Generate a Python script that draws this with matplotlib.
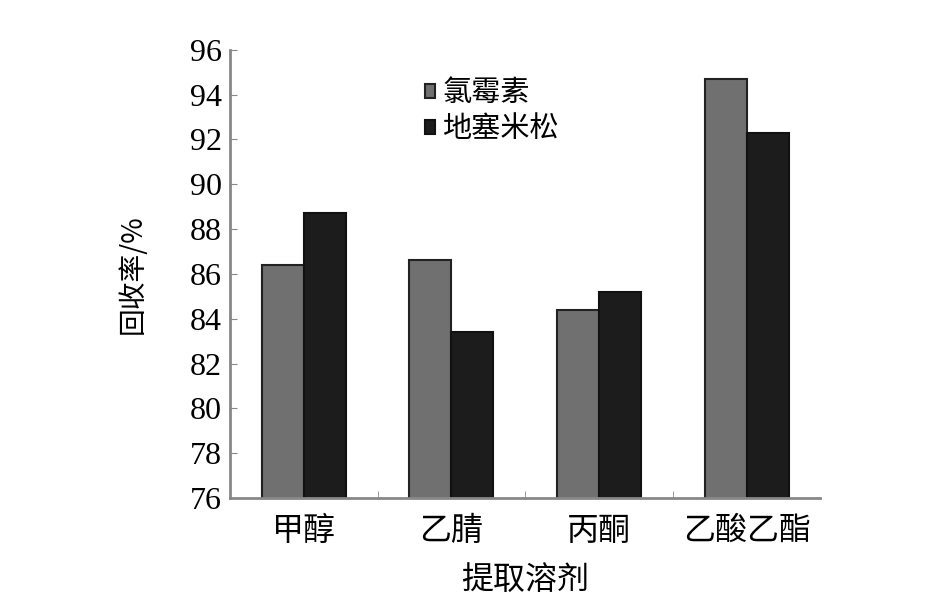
import numpy as np
import matplotlib.pyplot as plt

plt.rcParams['font.family'] = ['Noto Sans CJK SC', 'DejaVu Sans']

solvents = ['甲醇', '乙腈', '丙酮', '乙酸乙酯']
chloramphenicol = [86.4, 86.6, 84.4, 94.7]
dexamethasone = [88.7, 83.4, 85.2, 92.3]
yticks = np.arange(76, 97, 2)

fig = plt.figure(figsize=(9.42, 6.06), dpi=100)
ax = fig.add_axes([0.244, 0.178, 0.627, 0.74])

x = np.arange(len(solvents))
w = 0.285
ax.bar(x - w / 2, chloramphenicol, w, color='#707070', edgecolor='#222222',
       linewidth=1.5, label='氯霉素')
ax.bar(x + w / 2, dexamethasone, w, color='#1c1c1c', edgecolor='#111111',
       linewidth=1.5, label='地塞米松')

ax.set_xlim(-0.5, len(solvents) - 0.5)
ax.set_ylim(76, 96)
ax.set_yticks(yticks)
ax.set_yticklabels([str(v) for v in yticks], family='Liberation Serif', fontsize=23)
ax.set_xticks(x)
ax.set_xticklabels(solvents, fontsize=23)
ax.set_xticks(x[:-1] + 0.5, minor=True)
ax.tick_params(axis='x', which='major', length=0, pad=12)
ax.tick_params(axis='x', which='minor', direction='in', length=5, color='#888888')
ax.tick_params(axis='y', direction='in', length=5, color='#888888', pad=6)

for s in ['top', 'right']:
    ax.spines[s].set_visible(False)
for s in ['left', 'bottom']:
    ax.spines[s].set_color('#888888')
    ax.spines[s].set_linewidth(2)

ax.set_ylabel('回收率/%', fontsize=20, labelpad=30)
ax.set_xlabel('提取溶剂', fontsize=23, labelpad=12)

ax.legend(loc='upper left', bbox_to_anchor=(0.3, 0.975), frameon=False,
          fontsize=21, handlelength=0.35, handleheight=0.35, handletextpad=0.25,
          labelspacing=0.2, borderaxespad=0.2)

fig.savefig('out.png', dpi=100)
